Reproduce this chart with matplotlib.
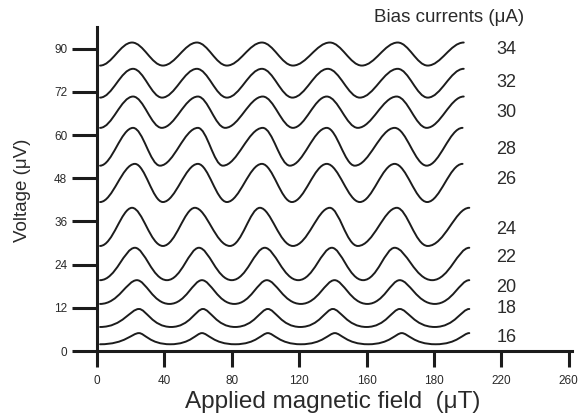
import matplotlib
matplotlib.use("Agg")
import matplotlib.pyplot as plt
from matplotlib.path import Path
from matplotlib.patches import PathPatch

plt.rcParams['font.family'] = ['Liberation Sans', 'DejaVu Sans']

# ── Data ──────────────────────────────────────────────────────────────────────
bias = [16, 18, 20, 22, 24, 26, 28, 30, 32, 34]

# voltage level at the maxima / minima of each trace (axis units)
peak_v   = [5.0, 11.7, 19.7, 28.7, 39.8, 52.0, 62.0, 70.7, 78.4, 85.7]
valley_v = [1.9,  6.7, 13.1, 19.7, 29.2, 41.4, 51.5, 62.0, 70.4, 79.3]

# field position of the maxima (last one = end of trace)
peak_x = [
    [24.9, 62.3, 101.4, 141.2, 180.9, 221.0],
    [24.9, 62.9, 101.4, 140.0, 179.7, 221.0],
    [23.7, 62.3, 100.8, 141.0, 179.7, 221.0],
    [22.5, 60.5,  99.6, 139.4, 176.7, 221.0],
    [20.8, 58.1,  96.7, 138.2, 178.0, 221.0],
    [22.5, 59.9,  97.9, 136.4, 176.7, 217.0],
    [21.4, 59.9,  98.4, 136.4, 176.7, 217.0],
    [21.4, 59.9,  98.4, 136.4, 177.9, 217.7],
    [21.4, 59.3,  97.9, 137.0, 178.5, 217.7],
    [20.8, 59.3,  97.9, 138.2, 178.5, 217.7],
]
# field position of the minima (first one = start of trace)
valley_x = [
    [1.8, 43.5, 82.0, 121.0, 161.0, 201.0],
    [1.8, 44.0, 82.0, 120.7, 160.0, 200.5],
    [1.8, 43.0, 81.5, 121.0, 160.5, 200.5],
    [1.8, 41.5, 80.0, 119.5, 158.0, 199.0],
    [1.8, 39.1, 78.9, 116.3, 154.8, 196.3],
    [1.8, 39.1, 77.1, 115.7, 156.0, 196.0],
    [1.8, 37.4, 74.7, 114.5, 153.0, 195.7],
    [1.8, 38.4, 76.1, 116.3, 154.8, 195.7],
    [1.8, 38.6, 77.1, 116.0, 156.0, 196.3],
    [1.8, 39.1, 77.1, 116.3, 157.2, 196.3],
]

x_ticks = [0, 40, 80, 120, 160, 200, 240, 280]
x_tick_labels = ["0", "40", "80", "120", "160", "180", "220", "260"]
y_ticks = [0, 12, 24, 36, 48, 60, 72, 84]
y_tick_labels = ["0", "12", "24", "36", "48", "60", "72", "90"]

# ── Styling ──────────────────────────────────────────────────────────────────
INK = "#1c1c1c"
TXT = "#2a2a2a"
# bezier handle lengths: low bias -> flat valleys, narrower rounded peaks
h_valley = [0.65, 0.58, 0.50, 0.45, 0.40, 0.36, 0.36, 0.36, 0.36, 0.36]
h_peak   = [0.18, 0.22, 0.27, 0.30, 0.33, 0.36, 0.36, 0.36, 0.36, 0.36]
label_y  = [3.9, 11.7, 17.8, 26.1, 33.9, 47.6, 55.9, 66.2, 74.5, 83.7]
label_x  = 237

fig = plt.figure(figsize=(5.81, 4.16), dpi=100)
fig.patch.set_facecolor("white")
ax = fig.add_axes([0.167, 0.156, 0.8176, 0.779])

# ── Traces ───────────────────────────────────────────────────────────────────
for i in range(len(bias)):
    pts = sorted([(x, peak_v[i], h_peak[i]) for x in peak_x[i]] +
                 [(x, valley_v[i], h_valley[i]) for x in valley_x[i]])
    verts = [pts[0][:2]]
    codes = [Path.MOVETO]
    for a, b in zip(pts[:-1], pts[1:]):
        dx = b[0] - a[0]
        verts += [(a[0] + a[2] * dx, a[1]), (b[0] - b[2] * dx, b[1]), (b[0], b[1])]
        codes += [Path.CURVE4] * 3
    ax.add_patch(PathPatch(Path(verts, codes), fill=False,
                           edgecolor=INK, lw=1.4, capstyle='round'))
    ax.text(label_x, label_y[i], str(bias[i]), fontsize=13, color=TXT,
            ha='left', va='center', clip_on=False)

# ── Axes ─────────────────────────────────────────────────────────────────────
ax.set_xlim(0, 282)
ax.set_ylim(0, 90)
ax.set_xticks(x_ticks)
ax.set_xticklabels(x_tick_labels)
ax.set_yticks(y_ticks)
ax.set_yticklabels(y_tick_labels)
ax.tick_params(axis='y', length=18, width=2.2, pad=3.5, labelsize=8.5,
               color=INK, labelcolor=TXT)
ax.tick_params(axis='x', length=11.5, width=2.2, pad=6, labelsize=8.5,
               color=INK, labelcolor=TXT)
for side in ("top", "right"):
    ax.spines[side].set_visible(False)
for side in ("left", "bottom"):
    ax.spines[side].set_linewidth(2.2)
    ax.spines[side].set_color(INK)

ax.set_xlabel("Applied magnetic field  (μT)", fontsize=17.5, color=TXT)
ax.xaxis.set_label_coords(0.497, -0.157)
ax.xaxis.label.set_va('center')
ax.set_ylabel("Voltage (μV)", fontsize=13.5, color=TXT)
ax.yaxis.set_label_coords(-0.156, 0.497)
ax.yaxis.label.set_va('center')

fig.text(0.773, 0.957, "Bias currents (μA)", fontsize=13.5, color=TXT,
         ha='center', va='center')

fig.savefig("out.png", dpi=100)
